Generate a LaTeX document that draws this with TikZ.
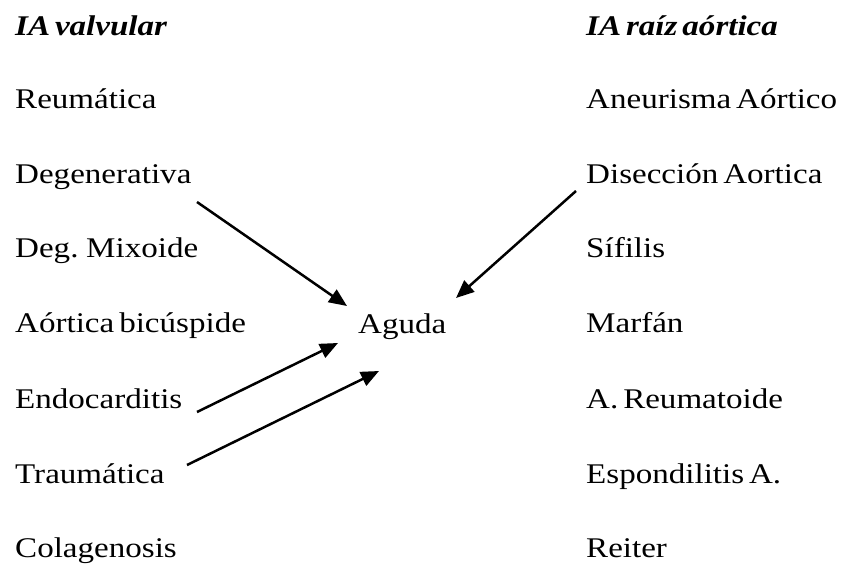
\documentclass[tikz,border=0pt]{standalone}
\usepackage{fontspec}
\setmainfont{Liberation Serif}[FakeStretch=1.16,WordSpace=0.6]
\usetikzlibrary{arrows.meta}

\begin{document}
\begin{tikzpicture}
[x=1pt,y=-1pt,
  textDecorate/.style={anchor=base west,inner sep=0pt,font=\fontsize{28.5}{32}\selectfont},%
  headDecorate/.style={textDecorate,font=\fontsize{28.5}{32}\selectfont\bfseries\itshape},%
  arrowDecorate/.style={-{Triangle[length=18pt,width=15pt]},line width=2.5pt}]
\useasboundingbox (0,0) rectangle (851,579);
%% headings
\node (lh) at (15,35) [headDecorate] {IA valvular};
\node (rh) at (586,35) [headDecorate] {IA raíz aórtica};
%% causes
\foreach \nodename/\y/\label in {
  l1/108/Reumática, l2/183/Degenerativa, l3/257/Deg. Mixoide,
  l4/332/Aórtica bicúspide, l5/408/Endocarditis, l6/483/Traumática,
  l7/557/Colagenosis}
{
  \node (\nodename) at (15,\y) [textDecorate] {\label};
}
\foreach \nodename/\y/\label in {
  r1/108/Aneurisma Aórtico, r2/183/Disección Aortica, r3/257/Sífilis,
  r4/332/Marfán, r5/408/A. Reumatoide, r6/483/Espondilitis A.,
  r7/557/Reiter}
{
  \node (\nodename) at (586,\y) [textDecorate] {\label};
}
\node (aguda) at (358,333) [textDecorate] {Aguda};
%% arrow ends
\foreach \nodename/\x/\y in {
  s2/197/202, t2/347/306, s9/576/191, t9/456/298,
  s5/197/412, t5/338/343, s6/187/465, t6/379/371}
{
  \coordinate (\nodename) at (\x,\y);
}
%% arrows
\path
\foreach \startnode/\endnode in {s2/t2, s9/t9, s5/t5, s6/t6}
{
  (\startnode) edge[arrowDecorate] (\endnode)
};
\end{tikzpicture}
\end{document}
